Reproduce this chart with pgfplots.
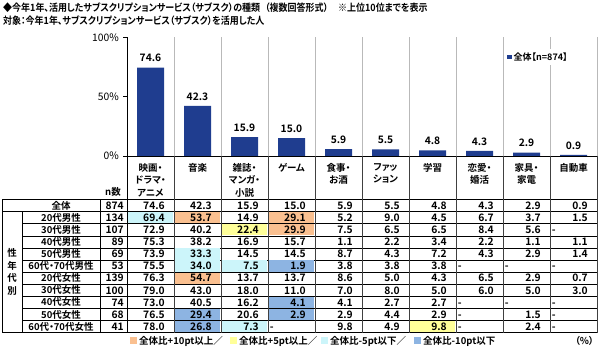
\documentclass[border=0pt]{standalone}
\usepackage{fontspec}
\setmainfont{Noto Sans CJK JP}[BoldFont={Noto Sans CJK JP Bold}, RawFeature=+palt]
\newfontfamily\ttlfam{Noto Sans CJK JP Bold}[RawFeature=+palt, FakeStretch=0.9]
\usepackage{pgfplots}
\usepackage{pgfplotstable}
\pgfplotsset{compat=1.18}

\definecolor{barblue}{HTML}{1F3D8F}
\definecolor{hlorange}{HTML}{FAC090}
\definecolor{hlyellow}{HTML}{FFFF99}
\definecolor{hlcyan}{HTML}{CCF5FA}
\definecolor{hlblue}{HTML}{8DB4E2}

\newcommand\ttlfont{\ttlfam\fontsize{10}{12}\selectfont}
\newcommand\numfont{\bfseries\fontsize{10.3}{11}\selectfont}
\newcommand\lblfont{\bfseries\fontsize{9.5}{11}\selectfont}
\def\dashstr{-}
\newcommand\cellfmt[1]{\edef\cellval{#1}\ifx\cellval\dashstr\makebox[36pt][l]{-}\else\cellval\fi}

\pgfdeclareplotmark{cell}{\pgfpathrectangle{\pgfpoint{-22.5pt}{-5.6pt}}{\pgfpoint{45pt}{11.2pt}}\pgfusepathqfill}

\pgfplotstableread{
idx val
0 74.6
1 42.3
2 15.9
3 15.0
4 5.9
5 5.5
6 4.8
7 4.3
8 2.9
9 0.9
}\bardata

\pgfplotstableread{
row label n c0 c1 c2 c3 c4 c5 c6 c7 c8 c9
0 全体 874 74.6 42.3 15.9 15.0 5.9 5.5 4.8 4.3 2.9 0.9
1 20代男性 134 69.4 53.7 14.9 29.1 5.2 9.0 4.5 6.7 3.7 1.5
2 30代男性 107 72.9 40.2 22.4 29.9 7.5 6.5 6.5 8.4 5.6 -
3 40代男性 89 75.3 38.2 16.9 15.7 1.1 2.2 3.4 2.2 1.1 1.1
4 50代男性 69 73.9 33.3 14.5 14.5 8.7 4.3 7.2 4.3 2.9 1.4
5 60代・70代男性 53 75.5 34.0 7.5 1.9 3.8 3.8 3.8 - - -
6 20代女性 139 76.3 54.7 13.7 13.7 8.6 5.0 4.3 6.5 2.9 0.7
7 30代女性 100 79.0 43.0 18.0 11.0 7.0 8.0 5.0 6.0 5.0 3.0
8 40代女性 74 73.0 40.5 16.2 4.1 4.1 2.7 2.7 - - -
9 50代女性 68 76.5 29.4 20.6 2.9 2.9 4.4 2.9 - 1.5 -
10 60代・70代女性 41 78.0 26.8 7.3 - 9.8 4.9 9.8 - 2.4 -
}\tabledata

\pgfplotstableread{
col row cls
0 1 cy
1 1 or
3 1 or
2 2 ye
3 2 or
1 4 cy
1 5 cy
2 5 cy
3 5 bl
1 6 or
3 8 bl
1 9 bl
3 9 bl
1 10 bl
2 10 cy
6 10 ye
}\hilite

\begin{document}
\begin{tikzpicture}
\path[use as bounding box] (0pt,0pt) rectangle (600pt,351pt);

% ---------------- bar chart ----------------
\begin{axis}[
  at={(127pt,195pt)}, anchor=south west,
  scale only axis, width=470pt, height=118.5pt,
  xmin=-0.5, xmax=9.5, ymin=0, ymax=100,
  ybar, bar width=27pt,
  axis x line*=bottom, axis y line*=left,
  axis line style={black, line width=0.6pt},
  xtick={0,...,9},
  xticklabels={{映画・\\ドラマ・\\アニメ},{音楽},{雑誌・\\マンガ・\\小説},{ゲーム},{食事・\\お酒},{ファッ\\ション},{学習},{恋愛・\\婚活},{家具・\\家電},{自動車}},
  xticklabel style={align=center, anchor=north, inner sep=0pt, yshift=-3pt, font=\bfseries\fontsize{9.5}{12.5}\selectfont},
  xtick style={draw=none},
  minor xtick={0.5,1.5,...,9.5},
  xminorgrids=true,
  minor grid style={gray!55, line width=0.6pt},
  minor tick length=0pt,
  ytick={0,50,100},
  yticklabels={0\%,50\%,100\%},
  yticklabel style={font=\fontsize{10.3}{11}\selectfont, inner sep=1pt, xshift=-3pt},
  ytick style={black, line width=0.6pt},
  tick align=outside, major tick length=4pt,
  legend style={at={(0.806,0.835)}, anchor=west, draw=none, fill=white, inner sep=1pt,
    font=\bfseries\fontsize{9}{11}\selectfont},
]
\addplot[fill=barblue, draw=none,
  legend image code/.code={\fill[barblue] (0pt,-2.3pt) rectangle (4.6pt,2.3pt);},
  nodes near coords={\pgfmathprintnumber[fixed,fixed zerofill,precision=1,assume math mode=true]{\pgfplotspointmeta}},
  point meta=explicit,
  every node near coord/.append style={font=\bfseries\fontsize{10.3}{12}\selectfont, black, yshift=2pt}]
  table[x=idx, y=val, meta=val] {\bardata};
\addlegendentry{全体【n=874】}
\end{axis}

% ---------------- table (pixel coordinates, y down) ----------------
\begin{axis}[
  at={(0pt,0pt)}, anchor=south west,
  scale only axis, width=600pt, height=351pt,
  xmin=0, xmax=600, ymin=0, ymax=351, y dir=reverse,
  hide axis, clip=false,
]
% highlighted cells
\addplot[scatter, only marks, mark=cell, scatter src=explicit symbolic,
  scatter/classes={or={mark=cell,fill=hlorange,draw=none}, ye={mark=cell,fill=hlyellow,draw=none},
                   cy={mark=cell,fill=hlcyan,draw=none}, bl={mark=cell,fill=hlblue,draw=none}}]
  table[x expr={127+47*\thisrow{col}+23.5}, y expr={205.55+12.1*\thisrow{row}}, meta=cls] {\hilite};

% grid lines of the table
\draw[black, line width=0.6pt] (2,199.5) -- (597,199.5);
\draw[black, line width=0.6pt] (2,211.6) -- (597,211.6);
\pgfplotsinvokeforeach{2,...,10}{
  \draw[black, line width=0.45pt] (22,{199.5+12.1*#1}) -- (597,{199.5+12.1*#1});
}
\draw[black, line width=0.6pt] (2,332.6) -- (597,332.6);
\draw[black, line width=0.6pt] (2,199.5) -- (2,332.6);
\draw[black, line width=0.5pt] (22,211.6) -- (22,332.6);
\draw[black, line width=0.5pt] (100,199.5) -- (100,332.6);
\draw[black, line width=0.6pt] (127,156) -- (127,332.6);
\pgfplotsinvokeforeach{1,...,10}{
  \draw[black!75, line width=0.5pt] ({127+47*#1},156) -- ({127+47*#1},332.6);
}

% row labels, n, values
\addplot[draw=none, point meta=explicit symbolic, nodes near coords={\pgfplotspointmeta},
  every node near coord/.append style={anchor=base, inner sep=0pt, yshift=-3.6pt, font=\lblfont, black}]
  table[x expr=61, y expr={205.55+12.1*\thisrow{row}}, meta=label] {\tabledata};
\addplot[draw=none, point meta=explicit symbolic, nodes near coords={\pgfplotspointmeta},
  every node near coord/.append style={anchor=base east, inner sep=0pt, yshift=-3.8pt, font=\numfont, black}]
  table[x expr=124, y expr={205.55+12.1*\thisrow{row}}, meta=n] {\tabledata};
\pgfplotsinvokeforeach{0,...,9}{
\addplot[draw=none, point meta=explicit symbolic, nodes near coords={\cellfmt{\pgfplotspointmeta}},
  every node near coord/.append style={anchor=base east, inner sep=0pt, yshift=-3.8pt, font=\numfont, black}]
  table[x expr={127+47*(#1+1)-9}, y expr={205.55+12.1*\thisrow{row}}, meta=c#1] {\tabledata};
}

% titles and annotations
\node[anchor=base west, inner sep=0pt, font=\ttlfont] at (3,11.5) {◆今年1年、活用したサブスクリプションサービス（サブスク）の種類\hspace{5pt}（複数回答形式）\hspace{10pt}※上位10位までを表示};
\node[anchor=base west, inner sep=0pt, font=\ttlfont] at (3,24.5) {対象：今年1年、サブスクリプションサービス（サブスク）を活用した人};
\node[anchor=base, inner sep=0pt, font=\lblfont] at (113,195) {n数};
\node[anchor=center, inner sep=0pt, align=center, font=\bfseries\fontsize{9.5}{12.5}\selectfont] at (12,272) {性\\年\\代\\別};

% bottom key
\fill[hlorange] (130,336.5) rectangle (137,343.5);
\node[anchor=base west, inner sep=0pt, font=\lblfont] at (139,344) {全体比+10pt以上／};
\fill[hlyellow] (230,336.5) rectangle (237,343.5);
\node[anchor=base west, inner sep=0pt, font=\lblfont] at (239,344) {全体比+5pt以上／};
\fill[hlcyan] (321,336.5) rectangle (328,343.5);
\node[anchor=base west, inner sep=0pt, font=\lblfont] at (330,344) {全体比-5pt以下／};
\fill[hlblue] (414,336.5) rectangle (421,343.5);
\node[anchor=base west, inner sep=0pt, font=\lblfont] at (423,344) {全体比-10pt以下};
\node[anchor=base east, inner sep=0pt, font=\lblfont] at (594,344) {（\%）};
\end{axis}
\end{tikzpicture}
\end{document}
